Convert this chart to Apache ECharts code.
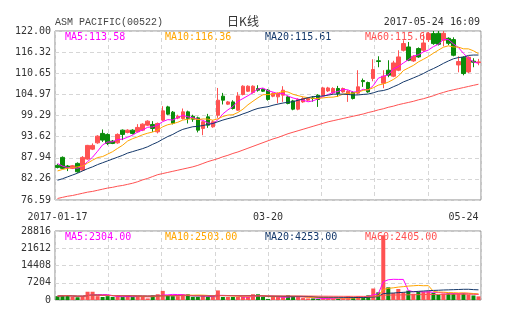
<!DOCTYPE html>
<html><head><meta charset="utf-8">
<script src="https://cdn.jsdelivr.net/npm/echarts@6/dist/echarts.min.js"></script>
<style>html,body{margin:0;padding:0;background:#fff}#c{width:505px;height:330px}</style>
</head><body><div id="c"></div>
<script>
// ---- data ----
const dates = [
 '2017-01-17','2017-01-18','2017-01-19','2017-01-20','2017-01-23','2017-01-24','2017-01-25','2017-01-26','2017-01-27',
 '2017-02-01','2017-02-02','2017-02-03','2017-02-06','2017-02-07','2017-02-08','2017-02-09','2017-02-10','2017-02-13','2017-02-14','2017-02-15','2017-02-16','2017-02-17','2017-02-20','2017-02-21','2017-02-22','2017-02-23','2017-02-24','2017-02-27','2017-02-28',
 '2017-03-01','2017-03-02','2017-03-03','2017-03-06','2017-03-07','2017-03-08','2017-03-09','2017-03-10','2017-03-13','2017-03-14','2017-03-15','2017-03-16','2017-03-17','2017-03-20','2017-03-21','2017-03-22','2017-03-23','2017-03-24','2017-03-27','2017-03-28','2017-03-29','2017-03-30','2017-03-31',
 '2017-04-03','2017-04-05','2017-04-06','2017-04-07','2017-04-10','2017-04-11','2017-04-12','2017-04-13','2017-04-18','2017-04-19','2017-04-20','2017-04-21','2017-04-24','2017-04-25','2017-04-26','2017-04-27','2017-04-28',
 '2017-05-02','2017-05-04','2017-05-05','2017-05-08','2017-05-09','2017-05-10','2017-05-11','2017-05-12','2017-05-15','2017-05-16','2017-05-17','2017-05-18','2017-05-19','2017-05-22','2017-05-23','2017-05-24'
];
const opens = [85.89,88.04,85.71,85.09,86.43,84.63,87.58,90.26,91.95,94.48,
 94.21,92.41,91.95,95.36,94.75,95.36,94.90,95.36,96.70,96.89,
 94.90,98.04,101.61,100.19,98.60,98.50,100.28,99.10,98.66,95.82,
 98.93,96.25,99.39,104.48,102.34,102.95,100.73,104.94,105.82,105.48,
 106.55,106.36,106.09,104.48,104.30,104.75,104.30,103.22,101.00,102.95,
 103.41,104.00,104.75,104.75,105.90,105.37,106.55,105.64,104.94,105.48,
 105.30,108.70,108.16,109.23,114.00,107.97,111.46,109.85,111.46,116.82,
 117.71,113.95,117.28,116.82,119.69,121.30,121.38,119.51,120.04,119.69,
 112.88,114.95,111.00,113.90,113.50];
const closes = [85.35,85.09,85.25,85.79,84.17,88.04,91.26,91.26,93.75,92.68,
 91.79,91.79,94.21,94.21,95.36,94.48,96.09,96.97,97.78,95.82,
 97.16,100.54,99.65,97.24,99.10,100.28,98.50,98.30,95.36,97.60,
 96.70,97.60,103.41,103.41,102.95,101.18,104.56,107.17,107.17,107.17,
 106.09,105.82,103.60,105.20,105.20,106.09,102.52,101.00,103.60,103.87,
 103.87,103.90,103.60,106.70,106.70,106.55,105.20,106.55,105.82,103.87,
 107.00,108.40,105.64,111.64,113.80,109.85,110.12,113.42,115.03,118.62,
 114.14,115.21,115.03,118.78,121.30,118.62,118.43,121.38,118.70,115.48,
 113.79,110.57,114.95,113.60,113.70];
const lows = [85.08,84.90,84.36,84.90,83.90,84.40,87.40,90.00,91.70,92.20,
 91.34,91.60,91.70,92.68,94.50,94.20,94.70,95.10,96.50,94.90,
 94.48,97.80,99.40,96.90,98.30,98.20,97.16,97.60,94.75,94.00,
 95.98,96.00,98.66,102.26,102.10,100.90,100.50,104.70,105.60,105.20,
 105.70,105.60,103.30,104.20,102.60,102.95,102.30,100.70,100.70,102.70,
 103.20,103.00,101.61,104.50,105.60,105.10,104.30,105.40,102.95,103.60,
 105.00,106.98,105.40,108.50,112.26,106.63,109.58,109.60,111.20,116.50,
 113.90,113.70,114.80,116.37,119.05,118.30,118.10,117.90,118.20,115.20,
 110.90,110.10,110.70,112.26,112.80];
const highs = [86.24,88.30,86.00,86.00,86.70,88.39,91.40,91.80,94.00,95.55,
 94.50,92.70,94.50,95.55,95.60,95.60,96.97,97.20,98.00,97.78,
 97.40,101.80,101.90,100.50,99.50,101.18,100.60,99.50,99.00,97.90,
 99.73,98.00,106.70,105.37,103.20,103.40,105.56,107.43,107.40,107.40,
 107.43,106.60,106.40,105.50,105.50,107.17,104.60,103.50,103.90,104.20,
 104.20,104.50,105.00,107.00,107.00,106.90,107.25,106.80,106.10,105.80,
 111.46,109.23,108.40,114.41,115.21,111.46,114.14,114.00,116.82,119.51,
 119.05,115.50,117.60,121.30,121.73,122.00,122.00,122.00,120.30,120.30,
 115.21,115.20,115.20,114.68,114.50];
const volumes = [1600,1950,1950,1250,1150,1600,3450,3450,1600,1250,
 1600,1250,1600,1250,1600,1250,1600,1600,650,1950,
 2400,3800,1950,1600,1600,2400,2400,1250,1250,1600,
 1250,1600,4000,1250,1250,1250,1250,1250,1250,2400,
 2400,1250,450,1250,1250,1250,1950,1250,1250,800,
 650,650,450,800,800,650,650,650,1600,1250,
 1600,1250,1950,4800,3200,27000,5300,2900,4600,3200,
 3900,2600,3400,3500,3630,3000,2200,2700,2800,2810,
 2900,2900,2300,1900,1520];
// moving-average values before a full window exists
const ma5Head = [86.4,85.7,85.3,85.3];
const ma10Head = [84.4,84.8,85.1,85.3,85.5,85.7,86.5,87.3,88.0];
const ma20Head = [81.9,82.3,82.8,83.3,83.8,84.4,85.0,85.5,86.1,86.6,87.1,87.6,88.1,88.6,89.2,89.6,90.0,90.4,90.9];
const ma60 = [77.0,77.3,77.6,77.8,78.1,78.4,78.7,78.9,79.2,79.5,79.8,
 80.0,80.3,80.5,80.8,81.1,81.5,82.0,82.4,82.9,83.4,
 83.7,84.0,84.3,84.6,84.9,85.2,85.5,85.9,86.4,86.9,87.3,
 87.7,88.2,88.6,89.1,89.5,90.0,90.5,91.0,91.5,
 92.0,92.5,93.0,93.4,93.9,94.4,94.8,95.2,95.6,
 96.0,96.4,96.8,97.2,97.6,97.9,98.2,98.5,98.8,99.1,
 99.4,99.7,100.1,100.4,100.8,101.1,101.5,101.8,102.2,
 102.5,102.8,103.1,103.5,103.8,104.2,104.6,105.1,105.5,105.9,
 106.2,106.5,106.8,107.1,107.4,107.7];
const priceTicks = [76.59,82.26,87.94,93.62,99.29,104.97,110.65,116.32,122.00];
const volTicks = [0,7204,14408,21612,28816];
const dateLabels = ['2017-01-17','2017-03-20','2017-05-24'];
const priceLegend = [['MA5',113.58],['MA10',116.36],['MA20',115.61],['MA60',115.61]];
const volLegend = [['MA5',2304],['MA10',2503],['MA20',4253],['MA60',2405]];
const titleName = 'ASM PACIFIC(00522)';
const titleMid = '日K线';
const titleTime = '2017-05-24 16:09';

// ---- styles ----
const maColors = ['#ff00ff','#ffa500','#14386a','#ff5252'];
const upColor = '#ff5252', downColor = '#0a8c0a';
const mono = '"DejaVu Sans Mono", monospace';
const textColor = '#333';

function movingAvg(src, n, head) {
  return src.map((v, i) => {
    if (i < n - 1) {
      if (head) return head[i];
      let s = 0; for (let k = 0; k <= i; k++) s += src[k];
      return +(s / (i + 1)).toFixed(2);
    }
    let s = 0; for (let k = i - n + 1; k <= i; k++) s += src[k];
    return +(s / n).toFixed(2);
  });
}
const ma5 = movingAvg(closes, 5, ma5Head);
const ma10 = movingAvg(closes, 10, ma10Head);
const ma20 = movingAvg(closes, 20, ma20Head);
const priceMAs = [ma5, ma10, ma20, ma60];
const volMAs = [movingAvg(volumes,5), movingAvg(volumes,10), movingAvg(volumes,20), movingAvg(volumes,60)];

const kData = opens.map((o, i) => [o, closes[i], lows[i], highs[i]]);
const volData = volumes.map((v, i) => ({value: v, itemStyle: {color: closes[i] >= opens[i] ? upColor : downColor}}));

const dashed = {show: true, lineStyle: {color: '#d6d6d6', type: [4, 3], width: 1}};
const L = 55, W = 426;

const legendEls = [];
const legendX = [65, 165, 265, 365];
priceLegend.forEach((p, i) => legendEls.push({type: 'text', x: legendX[i], y: 37, z: 0,
  style: {text: p[0] + ':' + p[1].toFixed(2), fill: maColors[i], font: '10px ' + mono, textVerticalAlign: 'middle'}}));
volLegend.forEach((p, i) => legendEls.push({type: 'text', x: legendX[i], y: 237, z: 0,
  style: {text: p[0] + ':' + p[1].toFixed(2), fill: maColors[i], font: '10px ' + mono, textVerticalAlign: 'middle'}}));
legendEls.push({type: 'text', x: 55, y: 22, style: {text: titleName, fill: '#444', font: '10px "Liberation Mono", monospace', textVerticalAlign: 'middle'}});
legendEls.push({type: 'text', x: 243, y: 21, style: {text: titleMid, fill: textColor, font: '12px "Noto Sans CJK SC"', textAlign: 'center', textVerticalAlign: 'middle'}});
legendEls.push({type: 'text', x: 480, y: 22, style: {text: titleTime, fill: textColor, font: '10px ' + mono, textAlign: 'right', textVerticalAlign: 'middle'}});

const chart = echarts.init(document.getElementById('c'), null, {renderer: 'canvas'});
const option = {
  animation: false,
  backgroundColor: '#fff',
  graphic: {elements: legendEls},
  grid: [
    {left: L, top: 31, width: W, height: 169, show: true, borderColor: '#8c8c8c', borderWidth: 1, outerBoundsMode: 'none'},
    {left: L, top: 231, width: W, height: 69, show: true, borderColor: '#8c8c8c', borderWidth: 1, outerBoundsMode: 'none'}
  ],
  xAxis: [
    {type: 'category', gridIndex: 0, data: dates, boundaryGap: true,
     axisLine: {show: false}, axisTick: {show: false}, splitLine: {show: false},
     axisLabel: {interval: (idx, val) => dateLabels.includes(val),
       formatter: (val, idx) => idx === 0 ? val : val.slice(5),
       margin: 12, color: textColor, fontFamily: mono, fontSize: 10, alignMaxLabel: 'right'}},
    {type: 'category', gridIndex: 1, data: dates, boundaryGap: true,
     axisLine: {show: false}, axisTick: {show: false}, axisLabel: {show: false}, splitLine: {show: false}},
    {type: 'value', gridIndex: 0, min: 0, max: 8, interval: 1, position: 'bottom',
     axisLine: {show: false}, axisTick: {show: false}, axisLabel: {show: false}, splitLine: dashed},
    {type: 'value', gridIndex: 1, min: 0, max: 8, interval: 1, position: 'bottom',
     axisLine: {show: false}, axisTick: {show: false}, axisLabel: {show: false}, splitLine: dashed}
  ],
  yAxis: [
    {type: 'value', gridIndex: 0, min: priceTicks[0], max: priceTicks[priceTicks.length - 1],
     axisLine: {show: false}, axisTick: {show: false, customValues: priceTicks},
     axisLabel: {customValues: priceTicks, formatter: v => v.toFixed(2), color: textColor, fontFamily: mono, fontSize: 10, margin: 4},
     splitLine: dashed},
    {type: 'value', gridIndex: 1, min: 0, max: volTicks[volTicks.length - 1], interval: volTicks[1],
     axisLine: {show: false}, axisTick: {show: false},
     axisLabel: {formatter: v => String(v), color: textColor, fontFamily: mono, fontSize: 10, margin: 4},
     splitLine: dashed}
  ],
  series: [
    {type: 'candlestick', xAxisIndex: 0, yAxisIndex: 0, data: kData, barWidth: 4,
     itemStyle: {color: upColor, color0: downColor, borderColor: upColor, borderColor0: downColor, borderWidth: 1}},
    ...priceMAs.map((d, i) => ({type: 'line', xAxisIndex: 0, yAxisIndex: 0, data: d, showSymbol: false, symbol: 'none',
      lineStyle: {color: maColors[i], width: 1}, z: 3})),
    {type: 'bar', xAxisIndex: 1, yAxisIndex: 1, data: volData, barWidth: 4},
    ...volMAs.map((d, i) => ({type: 'line', xAxisIndex: 1, yAxisIndex: 1, data: d, showSymbol: false, symbol: 'none',
      lineStyle: {color: maColors[i], width: 1}, z: 3}))
  ]
};
chart.setOption(option);
</script></body></html>
